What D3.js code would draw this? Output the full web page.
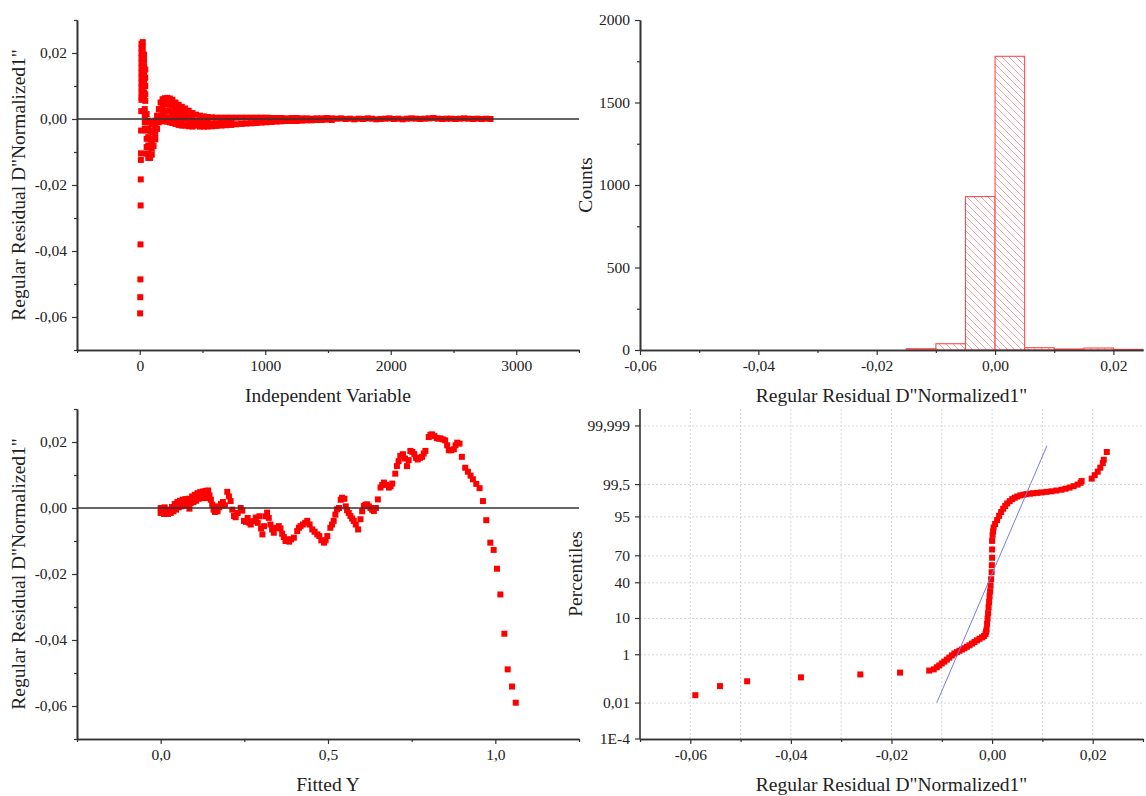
<!DOCTYPE html>
<html>
<head>
<meta charset="utf-8">
<script src="https://cdn.jsdelivr.net/npm/d3@7"></script>
<style>
  html, body { margin: 0; padding: 0; background: #fff; }
  svg { display: block; }
  text { font-family: "Liberation Serif", "Times New Roman", serif; fill: #222; }
</style>
</head>
<body>
<svg id="chart" width="1146" height="796"></svg>
<script>
// ---------------- DATA ----------------
// Panel 1: residual vs independent variable  [x, residual]
const indepResidual = [
  [3,-0.0589],[4,-0.0540],[5,-0.0486],[6,-0.0380],[7,-0.0262],[8,-0.0183],[9,-0.0124],[10,-0.0104],[11,-0.0035],[12,0.0024],
  [14,0.0228],[14,0.0215],[14,0.0200],[14,0.0185],[14,0.0170],[14,0.0155],[14,0.0140],[14,0.0125],[14,0.0110],[14,0.0095],[14,0.0080],[14,0.0065],[14,0.0058],
  [24,0.0233],[24,0.0218],[24,0.0200],[24,0.0180],[24,0.0160],[24,0.0140],[24,0.0120],[24,0.0100],[24,0.0085],
  [34,0.0195],[34,0.0178],[34,0.0160],[34,0.0140],[34,0.0118],[34,0.0100],[34,0.0080],[34,0.0062],
  [44,0.0150],[44,0.0125],[44,0.0100],[44,0.0075],[44,0.0055],
  [40,0.0030],[40,0.0010],[40,-0.0010],[40,-0.0030],
  [55,0.0015],[55,-0.0010],[55,-0.0035],[55,-0.0060],[55,-0.0085],[55,-0.0105],
  [68,-0.0005],[68,-0.0030],[68,-0.0055],[68,-0.0080],[68,-0.0105],[68,-0.0118],
  [82,-0.0010],[82,-0.0035],[82,-0.0060],[82,-0.0085],[82,-0.0110],[82,-0.0118],
  [96,-0.0015],[96,-0.0040],[96,-0.0065],[96,-0.0090],[96,-0.0108],
  [110,-0.0010],[110,-0.0035],[110,-0.0060],[110,-0.0082],
  [124,-0.0005],[124,-0.0025],[124,-0.0045],[124,-0.0062],
  [138,0.0010],[138,-0.0010],[138,-0.0030],
  [152,0.0030],[152,0.0010],[152,-0.0010],
  [166,0.0050],[166,0.0030],[166,0.0010],[166,-0.0005],
  [182,0.0060],[182,0.0040],[182,0.0020],[182,0.0000],[182,-0.0005],
  [200,0.0063],[200,0.0045],[200,0.0025],[200,0.0005],[200,-0.0007],
  [220,0.0064],[220,0.0045],[220,0.0025],[220,0.0005],[220,-0.0008],
  [240,0.0062],[240,0.0043],[240,0.0023],[240,0.0003],[240,-0.0010],
  [260,0.0058],[260,0.0040],[260,0.0020],[260,0.0000],[260,-0.0012],
  [285,0.0050],[285,0.0033],[285,0.0015],[285,-0.0003],[285,-0.0015],
  [310,0.0043],[310,0.0027],[310,0.0010],[310,-0.0007],[310,-0.0018],
  [335,0.0037],[335,0.0020],[335,0.0003],[335,-0.0013],[335,-0.0020],
  [360,0.0032],[360,0.0015],[360,-0.0002],[360,-0.0020],
  [390,0.0025],[390,0.0008],[390,-0.0010],[390,-0.0022],
  [420,0.0018],[420,0.0002],[420,-0.0015],[420,-0.0023],
  [450,0.0013],[450,-0.0005],[450,-0.0020],
  [480,0.0010],[480,-0.0008],[480,-0.0023],
  [510,0.0008],[510,-0.0010],[510,-0.0023],
  [540,0.0006],[540,-0.0012],[540,-0.0023],
  [575,0.0005],[575,-0.0013],[575,-0.0022],
  [610,0.0004],[610,-0.0013],[610,-0.0021],
  [650,0.0004],[650,-0.0012],[650,-0.0020],
  [690,0.0004],[690,-0.0011],[690,-0.0019],
  [730,0.0004],[730,-0.0010],[730,-0.0018],
  [770,0.0004],[770,-0.0016],[810,0.0004],[810,-0.0015],[850,0.0004],[850,-0.0014],
  [890,0.0004],[890,-0.0013],[930,0.0004],[930,-0.0012],[970,0.0004],[970,-0.0011],
  [1010,0.0004],[1010,-0.0010],[1050,0.0003],[1050,-0.0009],[1090,0.0003],[1090,-0.0008],
  [1130,0.0003],[1130,-0.0007],[1170,0.0002],[1170,-0.0006],[1210,0.0003],[1210,-0.0006],
  [1250,0.0003],[1250,-0.0006],[1290,0.0002],[1290,-0.0005],[1330,0.0002],[1330,-0.0004],
  [1370,0.0001],[1370,-0.0004],[1410,0.0002],[1410,-0.0003],[1450,0.0002],[1450,-0.0003],
  [1490,0.0003],[1490,-0.0002],[1530,0.0002],[1530,-0.0003],[1570,0.0001],[1605,0.0002],
  [1640,0.0000],[1675,0.0001],[1710,-0.0001],[1745,0.0001],[1780,0.0000],[1815,0.0002],
  [1850,0.0001],[1885,-0.0001],[1920,0.0000],[1955,0.0001],[1990,0.0002],[2025,0.0000],
  [2060,0.0001],[2095,-0.0001],[2130,0.0001],[2165,0.0002],[2200,0.0001],[2235,0.0000],
  [2270,0.0001],[2305,0.0002],[2340,0.0003],[2375,0.0001],[2410,0.0000],[2445,0.0001],
  [2480,0.0001],[2515,0.0000],[2550,0.0001],[2585,0.0002],[2620,0.0001],[2655,0.0000],
  [2690,0.0001],[2725,0.0000],[2760,0.0001],[2795,0.0000]
];

// Panel 2: histogram of residuals
const binStarts = [-0.015, -0.010, -0.005, 0.000, 0.005, 0.010, 0.015, 0.020];
const binWidth = 0.005;
const binCounts = [8, 38, 930, 1780, 14, 6, 12, 4];

// Panel 3: residual vs fitted Y  [fitted, residual]
const fittedResidual = [
  [0.000,0.0000],[0.000,-0.0015],[0.005,-0.0008],[0.010,-0.0018],[0.012,0.0002],[0.018,-0.0012],[0.022,-0.0018],
  [0.026,-0.0005],[0.030,-0.0015],[0.034,0.0003],[0.038,-0.0010],[0.042,0.0012],[0.046,-0.0005],[0.050,0.0018],
  [0.054,0.0002],[0.058,0.0022],[0.062,0.0005],[0.066,0.0025],[0.070,0.0008],[0.074,0.0027],[0.078,0.0012],
  [0.082,0.0028],[0.086,-0.0002],[0.090,0.0015],[0.094,0.0035],[0.098,0.0018],[0.102,0.0040],[0.106,0.0022],
  [0.110,0.0045],[0.114,0.0028],[0.118,0.0048],[0.122,0.0030],[0.126,0.0050],[0.130,0.0035],[0.134,0.0052],
  [0.138,0.0030],[0.142,0.0053],[0.146,0.0038],[0.150,0.0025],[0.154,0.0010],[0.158,-0.0005],[0.162,-0.0012],
  [0.166,0.0005],[0.170,-0.0010],[0.175,0.0002],[0.180,0.0012],[0.186,0.0018],[0.192,0.0008],[0.199,0.0049],
  [0.204,0.0035],[0.209,0.0021],[0.214,-0.0005],[0.219,-0.0024],[0.224,-0.0028],[0.230,-0.0015],[0.239,0.0000],
  [0.244,-0.0008],[0.249,-0.0039],[0.255,-0.0042],[0.260,-0.0030],[0.265,-0.0045],[0.269,-0.0050],[0.276,-0.0040],
  [0.284,-0.0029],[0.290,-0.0045],[0.295,-0.0025],[0.300,-0.0062],[0.304,-0.0080],[0.309,-0.0055],[0.313,-0.0025],
  [0.318,-0.0014],[0.323,-0.0030],[0.328,-0.0050],[0.333,-0.0065],[0.338,-0.0075],[0.345,-0.0060],[0.353,-0.0055],
  [0.358,-0.0062],[0.363,-0.0078],[0.368,-0.0088],[0.373,-0.0100],[0.378,-0.0095],[0.384,-0.0102],[0.390,-0.0095],
  [0.398,-0.0090],[0.408,-0.0070],[0.413,-0.0060],[0.418,-0.0055],[0.425,-0.0050],[0.432,-0.0045],[0.438,-0.0039],
  [0.445,-0.0050],[0.453,-0.0065],[0.460,-0.0072],[0.468,-0.0080],[0.474,-0.0085],[0.480,-0.0098],[0.488,-0.0105],
  [0.493,-0.0098],[0.498,-0.0085],[0.507,-0.0060],[0.512,-0.0050],[0.517,-0.0039],[0.522,-0.0020],[0.527,-0.0004],
  [0.533,0.0000],[0.538,0.0025],[0.542,0.0031],[0.549,0.0028],[0.553,0.0005],[0.557,-0.0007],[0.562,-0.0015],
  [0.567,-0.0024],[0.572,-0.0032],[0.577,-0.0039],[0.583,-0.0050],[0.590,-0.0065],[0.597,-0.0034],[0.602,-0.0010],
  [0.607,0.0006],[0.612,0.0010],[0.617,0.0011],[0.622,0.0005],[0.627,0.0000],[0.632,-0.0005],[0.637,-0.0009],
  [0.643,0.0000],[0.649,0.0026],[0.657,0.0062],[0.662,0.0070],[0.667,0.0077],[0.674,0.0070],[0.682,0.0062],
  [0.687,0.0066],[0.692,0.0074],[0.701,0.0104],[0.706,0.0127],[0.711,0.0142],[0.716,0.0158],[0.724,0.0163],
  [0.730,0.0150],[0.736,0.0127],[0.741,0.0145],[0.746,0.0173],[0.752,0.0170],[0.758,0.0163],[0.763,0.0152],
  [0.768,0.0147],[0.775,0.0152],[0.781,0.0155],[0.786,0.0165],[0.791,0.0173],[0.801,0.0215],[0.806,0.0222],
  [0.811,0.0223],[0.818,0.0218],[0.825,0.0212],[0.831,0.0210],[0.836,0.0211],[0.843,0.0208],[0.850,0.0205],
  [0.856,0.0190],[0.861,0.0175],[0.868,0.0175],[0.876,0.0178],[0.881,0.0190],[0.886,0.0198],[0.893,0.0195],
  [0.900,0.0155],[0.910,0.0122],[0.918,0.0110],[0.926,0.0098],[0.933,0.0087],[0.943,0.0073],[0.953,0.0060],
  [0.963,0.0021],[0.973,-0.0037],[0.985,-0.0105],[0.995,-0.0127],[1.005,-0.0184],[1.015,-0.0262],
  [1.027,-0.0381],[1.037,-0.0489],[1.050,-0.0541],[1.061,-0.0590]
];

// Panel 4: normal probability plot  [residual, percentile %]
const probPoints = [
  [-0.0590,0.024],[-0.0541,0.062],[-0.0487,0.100],[-0.0380,0.145],[-0.0262,0.190],[-0.0183,0.225],[-0.0125,0.270],
  [-0.0116,0.30],[-0.0110,0.36],[-0.0105,0.42],[-0.0100,0.50],[-0.0095,0.58],[-0.0090,0.68],[-0.0085,0.80],
  [-0.0080,0.95],[-0.0075,1.10],[-0.0070,1.22],[-0.0065,1.35],[-0.0060,1.48],[-0.0055,1.62],[-0.0050,1.80],
  [-0.0045,2.00],[-0.0040,2.25],[-0.0035,2.50],[-0.0030,2.80],[-0.0025,3.10],[-0.0020,3.40],[-0.0016,3.70],
  [-0.0013,4.2],[-0.0012,4.8],[-0.0011,5.5],[-0.0010,7.5],[-0.0009,10],[-0.0008,13],[-0.0007,17],[-0.0006,21],
  [-0.0005,26],[-0.0004,31],[-0.0003,37],[-0.0002,44],[-0.0001,52],[-0.00005,60],[0.0000,68],[0.0000,76],
  [0.0000,83],[0.0001,87],[0.0002,89],[0.0003,91],[0.0006,92.5],[0.0010,94],[0.0014,95.3],[0.0018,96.3],
  [0.0022,97.0],[0.0026,97.5],[0.0030,97.9],[0.0035,98.2],[0.0040,98.45],[0.0045,98.6],[0.0050,98.72],
  [0.0056,98.82],[0.0062,98.88],[0.0068,98.93],[0.0075,98.97],[0.0082,99.00],[0.0090,99.03],[0.0098,99.06],
  [0.0108,99.10],[0.0118,99.14],[0.0128,99.19],[0.0138,99.24],[0.0146,99.30],[0.0154,99.36],[0.0162,99.43],
  [0.0170,99.50],[0.0176,99.57],[0.0178,99.63],[0.0198,99.70],[0.0204,99.78],[0.0210,99.84],[0.0215,99.89],
  [0.0220,99.93],[0.0222,99.95],[0.0228,99.978]
];
const probFitLine = [[-0.0110, 0.0104], [0.0109, 99.989]];
const pctTicks = [0.0001, 0.01, 1, 10, 40, 70, 95, 99.5, 99.999];
const pctLabels = ["1E-4", "0,01", "1", "10", "40", "70", "95", "99,5", "99,999"];

// Axis tick values
const residTicks = [-0.06, -0.04, -0.02, 0, 0.02];
const residMinor = [-0.07, -0.05, -0.03, -0.01, 0.01, 0.03];
const indepTicks = [0, 1000, 2000, 3000];
const indepMinor = [-500, 500, 1500, 2500, 3500];
const countTicks = [0, 500, 1000, 1500, 2000];
const countMinor = [250, 750, 1250, 1750];
const histTicks = [-0.06, -0.04, -0.02, 0, 0.02];
const histMinor = [-0.05, -0.03, -0.01, 0.01];
const fitTicks = [0, 0.5, 1.0];
const fitMinor = [-0.25, 0.25, 0.75, 1.25];

const residTitle = 'Regular Residual D"Normalized1"';

// ---------------- HELPERS ----------------
const loc = d3.formatLocale({decimal: ",", thousands: "", grouping: [3], currency: ["", ""], minus: "-"});
const f2 = loc.format(".2f"), f1 = loc.format(".1f"), f0 = loc.format("d");

function invNorm(p) {
  const a=[-3.969683028665376e+01,2.209460984245205e+02,-2.759285104469687e+02,1.383577518672690e+02,-3.066479806614716e+01,2.506628277459239e+00];
  const b=[-5.447609879822406e+01,1.615858368580409e+02,-1.556989798598866e+02,6.680131188771972e+01,-1.328068155288572e+01];
  const c=[-7.784894002430293e-03,-3.223964580411365e-01,-2.400758277161838e+00,-2.549732539343734e+00,4.374664141464968e+00,2.938163982698783e+00];
  const d=[7.784695709041462e-03,3.224671290700398e-01,2.445134137142996e+00,3.754408661907416e+00];
  const plow = 0.02425, phigh = 1 - plow;
  let q, r;
  if (p < plow) { q = Math.sqrt(-2*Math.log(p)); return (((((c[0]*q+c[1])*q+c[2])*q+c[3])*q+c[4])*q+c[5])/((((d[0]*q+d[1])*q+d[2])*q+d[3])*q+1); }
  if (p <= phigh) { q = p-0.5; r = q*q; return (((((a[0]*r+a[1])*r+a[2])*r+a[3])*r+a[4])*r+a[5])*q/(((((b[0]*r+b[1])*r+b[2])*r+b[3])*r+b[4])*r+1); }
  q = Math.sqrt(-2*Math.log(1-p)); return -(((((c[0]*q+c[1])*q+c[2])*q+c[3])*q+c[4])*q+c[5])/((((d[0]*q+d[1])*q+d[2])*q+d[3])*q+1);
}

const svg = d3.select("#chart");
svg.append("rect").attr("width", 1146).attr("height", 796).attr("fill", "#fff");

const AX = "#333";
const TICK_FS = 15.5, TITLE_FS = 19.5;

function styleAxis(g) {
  g.select(".domain").attr("stroke", AX).attr("stroke-width", 1.6);
  g.selectAll(".tick line").attr("stroke", AX).attr("stroke-width", 1.2);
  g.selectAll(".tick text").attr("font-size", TICK_FS).attr("fill", "#222")
    .attr("font-family", '"Liberation Serif", serif');
}

function xAxis(x, y0, major, minor, fmt) {
  if (minor) {
    const gm = svg.append("g").attr("transform", `translate(0,${y0})`)
      .call(d3.axisBottom(x).tickValues(minor).tickSize(3).tickSizeOuter(0).tickFormat(""));
    styleAxis(gm);
  }
  const g = svg.append("g").attr("transform", `translate(0,${y0})`)
    .call(d3.axisBottom(x).tickValues(major).tickSize(5).tickSizeOuter(0).tickPadding(5).tickFormat(fmt));
  styleAxis(g);
}
function yAxis(y, x0, major, minor, fmt) {
  if (minor) {
    const gm = svg.append("g").attr("transform", `translate(${x0},0)`)
      .call(d3.axisLeft(y).tickValues(minor).tickSize(3).tickSizeOuter(0).tickFormat(""));
    styleAxis(gm);
  }
  const g = svg.append("g").attr("transform", `translate(${x0},0)`)
    .call(d3.axisLeft(y).tickValues(major).tickSize(5).tickSizeOuter(0).tickPadding(5).tickFormat(fmt));
  styleAxis(g);
}
function xTitle(text, cx, yb) {
  svg.append("text").attr("x", cx).attr("y", yb).attr("text-anchor", "middle")
    .attr("font-size", TITLE_FS).text(text);
}
function yTitle(text, xb, cy) {
  svg.append("text").attr("transform", `translate(${xb},${cy}) rotate(-90)`)
    .attr("text-anchor", "middle").attr("font-size", TITLE_FS).text(text);
}
const SQ = 6;
function squares(data, x, y) {
  svg.append("g")
    .selectAll("rect").data(data).join("rect")
    .attr("x", d => x(d[0]) - SQ/2).attr("y", d => y(d[1]) - SQ/2)
    .attr("width", SQ).attr("height", SQ).attr("fill", "#ff0000");
}

// pattern for histogram
const defs = svg.append("defs");
const pat = defs.append("pattern").attr("id", "hatch").attr("patternUnits", "userSpaceOnUse")
  .attr("width", 7).attr("height", 7);
pat.append("rect").attr("width", 7).attr("height", 7).attr("fill", "#fff");
pat.append("path").attr("d", "M-1,-1 L8,8 M-1,6 L1,8 M6,-1 L8,1")
  .attr("stroke", "#f29a9a").attr("stroke-width", 0.9);

// ---------------- PANEL 1 ----------------
{
  const L = 77, R = 579, T = 20, B = 350;
  const x = d3.scaleLinear().domain([-500, 3500]).range([L, R]);
  const y = d3.scaleLinear().domain([-0.07, 0.03]).range([B, T]);
  squares(indepResidual, x, y);
  svg.append("line").attr("x1", L).attr("x2", R).attr("y1", y(0)).attr("y2", y(0))
    .attr("stroke", "#333").attr("stroke-width", 1.3);
  xAxis(x, B, indepTicks, indepMinor, f0);
  yAxis(y, L, residTicks, residMinor, f2);
  xTitle("Independent Variable", (L + R) / 2, B + 52);
  yTitle(residTitle, 25, (T + B) / 2);
}

// ---------------- PANEL 2 ----------------
{
  const L = 640, R = 1143, T = 20, B = 350;
  const x = d3.scaleLinear().domain([-0.06, 0.025]).range([L, R]);
  const y = d3.scaleLinear().domain([0, 2000]).range([B, T]);
  const bins = binStarts.map((s, i) => ({x0: s, x1: s + binWidth, n: binCounts[i]}));
  svg.append("g").selectAll("rect").data(bins).join("rect")
    .attr("x", d => x(d.x0)).attr("width", d => x(d.x1) - x(d.x0))
    .attr("y", d => y(d.n)).attr("height", d => B - y(d.n))
    .attr("fill", "url(#hatch)").attr("stroke", "#ff4a4a").attr("stroke-width", 1.1);
  xAxis(x, B, histTicks, histMinor, f2);
  yAxis(y, L, countTicks, countMinor, f0);
  xTitle(residTitle, (L + R) / 2, B + 52);
  yTitle("Counts", 592, (T + B) / 2);
}

// ---------------- PANEL 3 ----------------
{
  const L = 77, R = 579, T = 409, B = 739;
  const x = d3.scaleLinear().domain([-0.25, 1.25]).range([L, R]);
  const y = d3.scaleLinear().domain([-0.07, 0.03]).range([B, T]);
  squares(fittedResidual, x, y);
  svg.append("line").attr("x1", L).attr("x2", R).attr("y1", y(0)).attr("y2", y(0))
    .attr("stroke", "#333").attr("stroke-width", 1.3);
  xAxis(x, B, fitTicks, fitMinor, f1);
  yAxis(y, L, residTicks, residMinor, f2);
  xTitle("Fitted Y", (L + R) / 2, B + 52);
  yTitle(residTitle, 25, (T + B) / 2);
}

// ---------------- PANEL 4 ----------------
{
  const L = 640, R = 1143, T = 409, B = 739;
  const x = d3.scaleLinear().domain([-0.07, 0.03]).range([L, R]);
  const zlo = invNorm(0.000001), zhi = invNorm(0.999999);
  const yz = d3.scaleLinear().domain([zlo, zhi]).range([B, T]);
  const y = p => yz(invNorm(p / 100));
  // grid
  const grid = svg.append("g").attr("stroke", "#d8d8d8").attr("stroke-width", 1).attr("stroke-dasharray", "2,2");
  d3.range(-6, 3).map(k => k / 100).forEach(v => {
    grid.append("line").attr("x1", x(v)).attr("x2", x(v)).attr("y1", T).attr("y2", B);
  });
  pctTicks.slice(1).forEach(p => {
    grid.append("line").attr("x1", L).attr("x2", R).attr("y1", y(p)).attr("y2", y(p));
  });
  squares(probPoints, x, y);
  svg.append("line")
    .attr("x1", x(probFitLine[0][0])).attr("y1", y(probFitLine[0][1]))
    .attr("x2", x(probFitLine[1][0])).attr("y2", y(probFitLine[1][1]))
    .attr("stroke", "#7b7be8").attr("stroke-width", 1);
  xAxis(x, B, residTicks, residMinor, f2);
  // y axis with percentile ticks
  const ya = svg.append("g").attr("transform", `translate(${L},0)`);
  ya.append("line").attr("x1", 0).attr("x2", 0).attr("y1", T).attr("y2", B).attr("stroke", AX).attr("stroke-width", 1.6);
  pctTicks.forEach((p, i) => {
    ya.append("line").attr("x1", -5).attr("x2", 0).attr("y1", y(p)).attr("y2", y(p)).attr("stroke", AX).attr("stroke-width", 1.2);
    ya.append("text").attr("x", -10).attr("y", y(p)).attr("dy", "0.32em").attr("text-anchor", "end")
      .attr("font-size", TICK_FS).text(pctLabels[i]);
  });
  xTitle(residTitle, (L + R) / 2, B + 52);
  yTitle("Percentiles", 582, (T + B) / 2);
}
</script>
</body>
</html>
